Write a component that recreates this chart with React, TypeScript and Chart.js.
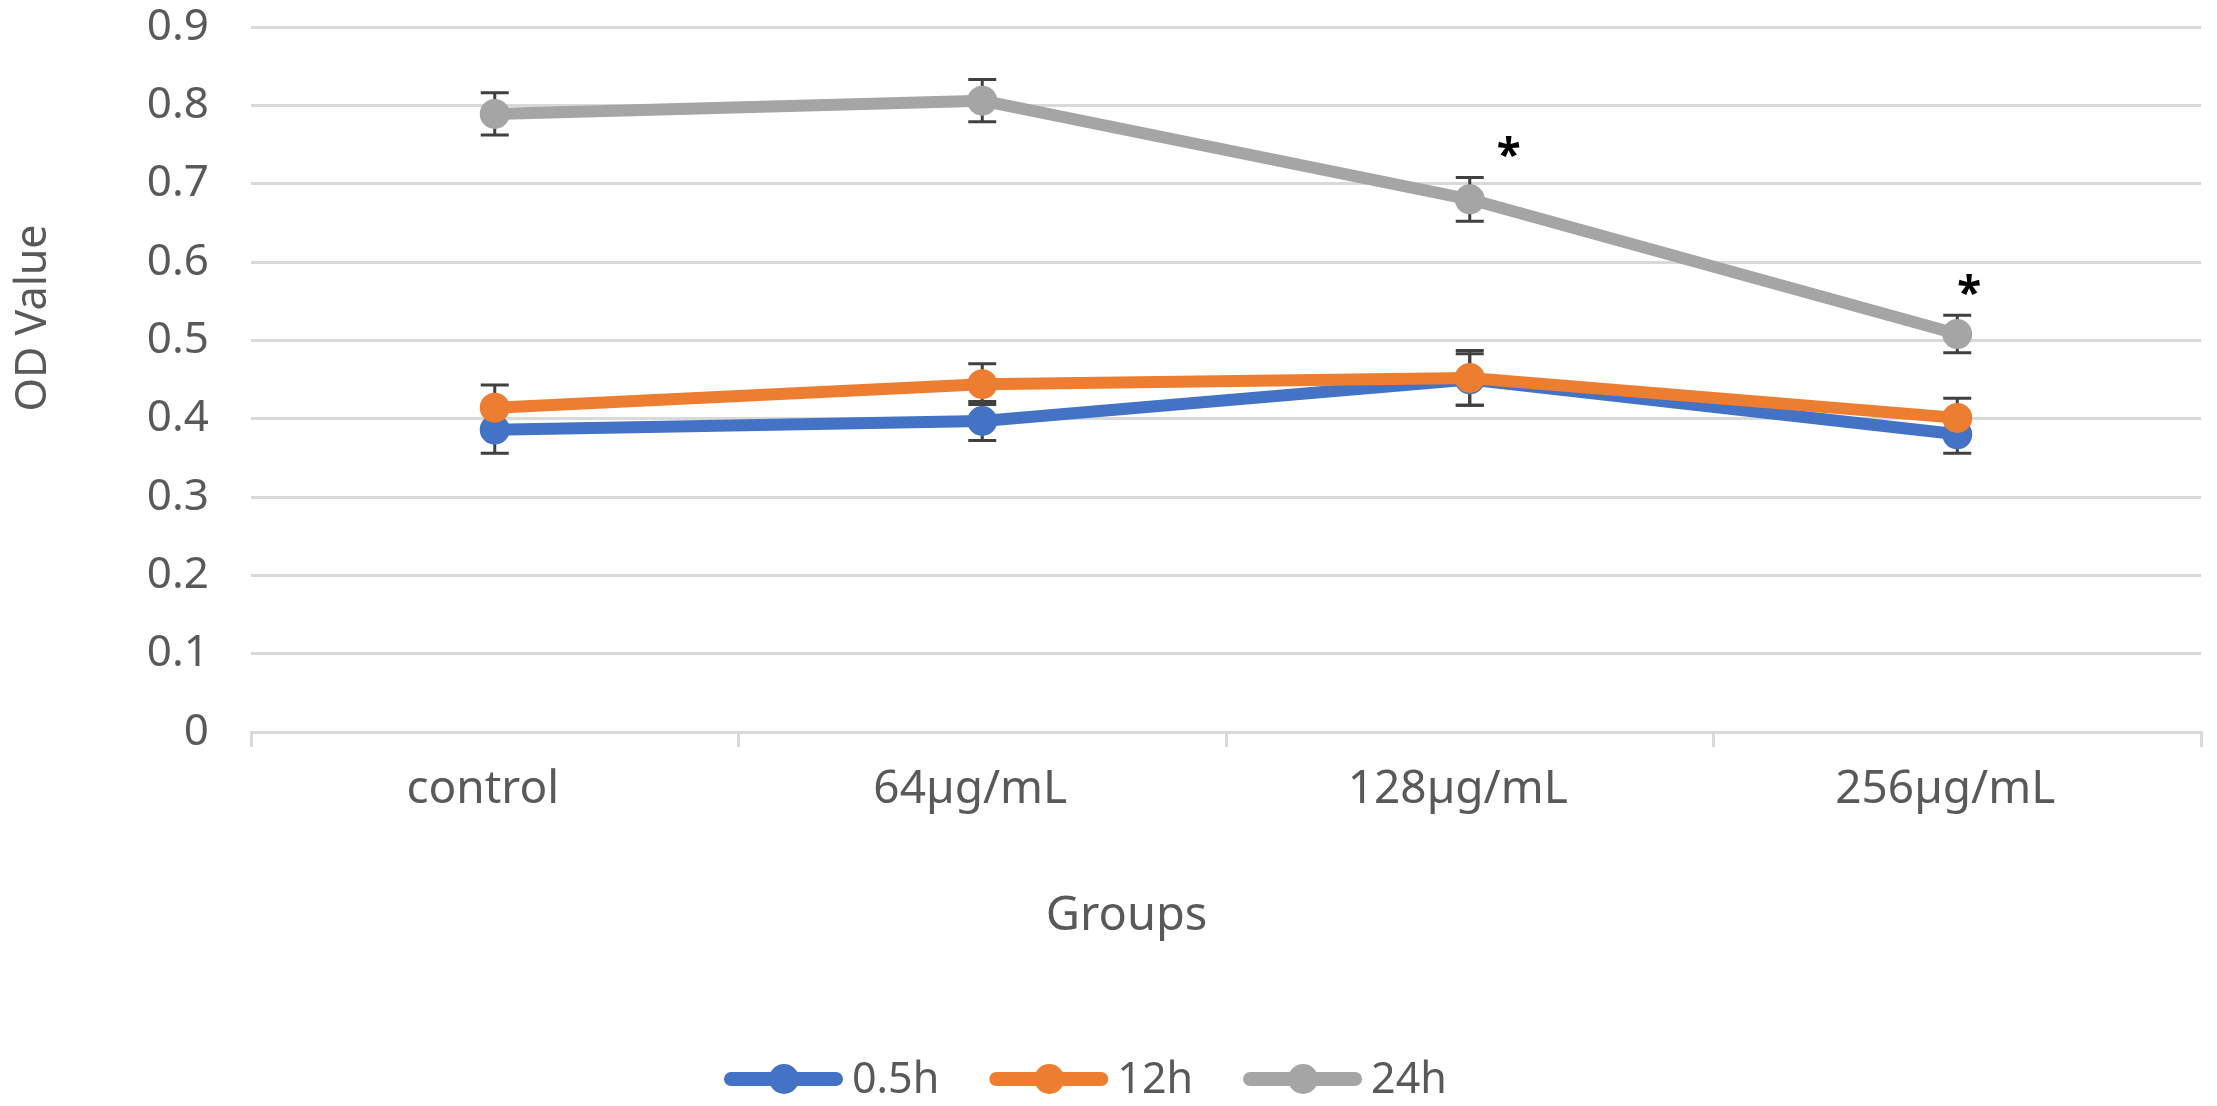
import React, { useEffect, useRef } from 'react';
import { Chart, registerables } from 'chart.js';

Chart.register(...registerables);

// ---------- data ----------
const categories = ['control', '64µg/mL', '128µg/mL', '256µg/mL'];
const seriesNames = ['0.5h', '12h', '24h'];
const values05h = [0.386, 0.397, 0.45, 0.38];
const values12h = [0.414, 0.444, 0.452, 0.401];
const values24h = [0.789, 0.806, 0.68, 0.508];
const errors05h = [0.03, 0.025, 0.033, 0.024];
const errors12h = [0.029, 0.026, 0.035, 0.025];
const errors24h = [0.027, 0.027, 0.028, 0.024];
const yTickLabels = ['0', '0.1', '0.2', '0.3', '0.4', '0.5', '0.6', '0.7', '0.8', '0.9'];
const significantSeries = '24h';
const significantCategories = ['128µg/mL', '256µg/mL'];
const xAxisTitle = 'Groups';
const yAxisTitle = 'OD Value';

// ---------- style ----------
const seriesColors = ['#4472C4', '#ED7D31', '#A5A5A5'];
const sigDx = [39, 12];
const TEXT = '#595959';
const GRID = '#d9d9d9';
const FONT = '"Noto Sans", "DejaVu Sans", sans-serif';

const seriesValues = [values05h, values12h, values24h];
const seriesErrors = [errors05h, errors12h, errors24h];

const overlayPlugin = {
  id: 'overlay',
  beforeDatasetsDraw(chart: any) {
    const { ctx } = chart;
    const x = chart.scales.x;
    const y = chart.scales.y;
    ctx.save();
    ctx.strokeStyle = '#404040';
    ctx.lineWidth = 3;
    ctx.lineCap = 'butt';
    seriesValues.forEach((vals, s) => {
      vals.forEach((v, i) => {
        const e = seriesErrors[s][i];
        const px = x.getPixelForValue(i);
        const top = y.getPixelForValue(v + e);
        const bot = y.getPixelForValue(v - e);
        ctx.beginPath();
        ctx.moveTo(px, top);
        ctx.lineTo(px, bot);
        ctx.moveTo(px - 14, top);
        ctx.lineTo(px + 14, top);
        ctx.moveTo(px - 14, bot);
        ctx.lineTo(px + 14, bot);
        ctx.stroke();
      });
    });
    ctx.restore();
  },
  afterDraw(chart: any) {
    const { ctx, chartArea } = chart;
    const x = chart.scales.x;
    const y = chart.scales.y;
    ctx.save();

    // significance asterisks
    const sIdx = seriesNames.indexOf(significantSeries);
    ctx.fillStyle = '#000000';
    ctx.font = 'bold 44px ' + FONT;
    ctx.textAlign = 'center';
    ctx.textBaseline = 'alphabetic';
    significantCategories.forEach((cat, k) => {
      const i = categories.indexOf(cat);
      const v = seriesValues[sIdx][i];
      const e = seriesErrors[sIdx][i];
      const px = x.getPixelForValue(i) + sigDx[k];
      const capY = y.getPixelForValue(v + e);
      const cy = capY - 30;
      const m = ctx.measureText('*');
      const base = cy + (m.actualBoundingBoxAscent - m.actualBoundingBoxDescent) / 2;
      ctx.fillText('*', px, base);
    });

    // axis titles
    ctx.fillStyle = TEXT;
    ctx.font = '47px ' + FONT;
    ctx.textAlign = 'center';
    ctx.textBaseline = 'alphabetic';
    const gx = chartArea.left + (chartArea.right - chartArea.left) * 0.449;
    ctx.fillText(xAxisTitle, gx, 930);

    ctx.save();
    ctx.font = '43px ' + FONT;
    ctx.translate(46, 318);
    ctx.rotate(-Math.PI / 2);
    ctx.fillText(yAxisTitle, 0, 0);
    ctx.restore();

    // legend
    const cy = 1079;
    let cx = 724;
    ctx.font = '43px ' + FONT;
    ctx.textAlign = 'left';
    seriesNames.forEach((name, s) => {
      const col = seriesColors[s];
      ctx.strokeStyle = col;
      ctx.lineWidth = 14;
      ctx.lineCap = 'round';
      ctx.beginPath();
      ctx.moveTo(cx + 7, cy);
      ctx.lineTo(cx + 112, cy);
      ctx.stroke();
      ctx.fillStyle = col;
      ctx.beginPath();
      ctx.arc(cx + 60, cy, 15, 0, Math.PI * 2);
      ctx.fill();
      ctx.fillStyle = TEXT;
      ctx.fillText(name, cx + 128, cy + 14);
      cx += 128 + ctx.measureText(name).width + 50;
    });

    ctx.restore();
  },
};

export default function App() {
  const canvasRef = useRef<HTMLCanvasElement | null>(null);

  useEffect(() => {
    if (!canvasRef.current) return;
    const chart = new Chart(canvasRef.current, {
      type: 'line',
      data: {
        labels: categories,
        datasets: seriesNames.map((name, s) => ({
          label: name,
          data: seriesValues[s],
          borderColor: seriesColors[s],
          backgroundColor: seriesColors[s],
          borderWidth: 12,
          borderCapStyle: 'round',
          borderJoinStyle: 'round',
          pointRadius: 14,
          pointHoverRadius: 14,
          pointBorderWidth: 2,
          pointBorderColor: seriesColors[s],
          pointBackgroundColor: seriesColors[s],
          tension: 0,
          fill: false,
          order: 3 - s,
        })),
      },
      options: {
        animation: false,
        responsive: true,
        maintainAspectRatio: false,
        events: [],
        layout: { padding: { left: 0, right: 4, top: 27, bottom: 0 } },
        plugins: {
          legend: { display: false },
          tooltip: { enabled: false },
          title: { display: false },
        },
        scales: {
          x: {
            type: 'category',
            offset: true,
            afterFit: (scale: any) => {
              scale.height = 374;
              scale.paddingLeft = 0;
              scale.paddingRight = 0;
              scale.paddingTop = 0;
              scale.paddingBottom = 0;
            },
            grid: {
              display: true,
              offset: true,
              drawOnChartArea: false,
              drawTicks: true,
              tickLength: 15,
              color: GRID,
              lineWidth: 3,
            },
            border: { display: true, color: GRID, width: 3 },
            ticks: {
              color: TEXT,
              font: { family: FONT, size: 46, lineHeight: 1.85 },
              padding: 0,
              labelOffset: -12,
              maxRotation: 0,
              autoSkip: false,
            },
          },
          y: {
            min: 0,
            max: 0.9,
            afterFit: (scale: any) => {
              scale.width = 251;
              scale.paddingLeft = 0;
              scale.paddingRight = 0;
              scale.paddingTop = 0;
              scale.paddingBottom = 0;
            },
            grid: {
              color: GRID,
              lineWidth: 3,
              drawTicks: true,
              tickLength: 42,
              tickColor: 'rgba(0,0,0,0)',
            },
            border: { display: false },
            ticks: {
              stepSize: 0.1,
              color: TEXT,
              font: { family: FONT, size: 44 },
              padding: 0,
              callback: (_v: any, index: number) => yTickLabels[index],
            },
          },
        },
      },
      plugins: [overlayPlugin],
    } as any);
    return () => chart.destroy();
  }, []);

  return (
    <div
      style={{
        position: 'fixed',
        left: 0,
        top: 0,
        width: '2217px',
        height: '1106px',
        background: '#ffffff',
      }}
    >
      <canvas ref={canvasRef} style={{ display: 'block' }} />
    </div>
  );
}
